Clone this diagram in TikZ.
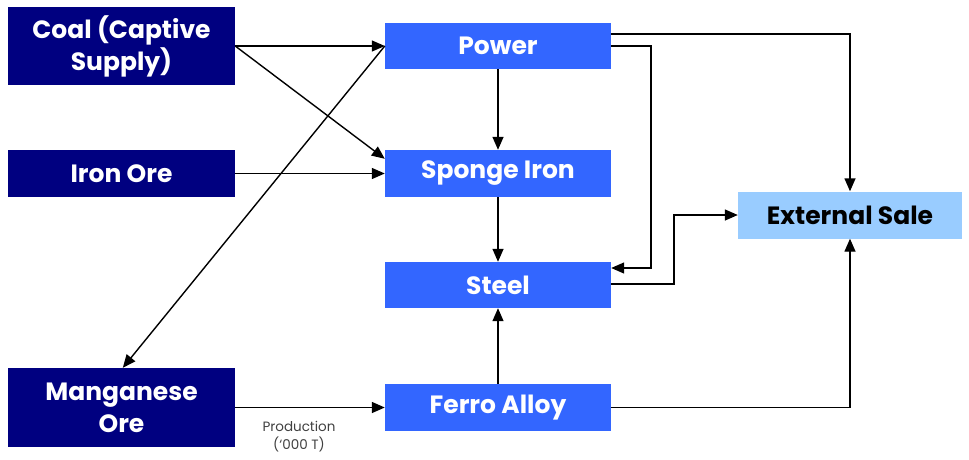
\documentclass[tikz,border=0pt]{standalone}
\usepackage{fontspec}
\setmainfont{Poppins}
\usetikzlibrary{arrows.meta}
\definecolor{navy}{HTML}{000080}
\definecolor{midblue}{HTML}{3366FF}
\definecolor{paleblue}{HTML}{99CCFF}
\tikzset{
  srcbox/.style={rectangle, fill=navy, text=white, font=\fontsize{25}{32}\selectfont\bfseries, minimum width=227pt, align=center, inner sep=0pt},
  procbox/.style={rectangle, fill=midblue, text=white, font=\fontsize{25}{32}\selectfont\bfseries, minimum width=226pt, minimum height=46pt, inner sep=0pt},
  salebox/.style={rectangle, fill=paleblue, text=black, font=\fontsize{25}{32}\selectfont\bfseries, minimum width=224pt, minimum height=47pt, inner sep=0pt},
  flow/.style={draw=black, line width=1.4pt, -{Triangle[length=13pt,width=11pt]}},
  lbl/.style={font=\fontsize{13.5}{18}\selectfont, text=black!75, align=center, inner sep=0pt}
}
\begin{document}
\begin{tikzpicture}[x=1pt,y=-1pt]
\useasboundingbox (0,0) rectangle (969,460);
\node[srcbox, minimum height=78pt] (coal) at (121.5,46) {Coal (Captive\\Supply)};
\node[srcbox, minimum height=47pt] (iron) at (121.5,173.5) {Iron Ore};
\node[srcbox, minimum height=79pt] (mang) at (121.5,407.5) {Manganese\\Ore};
\node[procbox] (power) at (498,46) {Power};
\node[procbox, minimum height=47pt] (sponge) at (498,173.5) {Sponge Iron};
\node[procbox] (steel) at (498,285) {Steel};
\node[procbox, minimum height=47pt] (ferro) at (498,407.5) {Ferro Alloy};
\node[salebox] (ext) at (850,215) {External Sale};
\node[lbl] (prodlbl) at (299,437) {Production\\(`000 T)};

\coordinate (spin) at ([yshift=-9pt]sponge.north west);
\coordinate (mgin) at ([xshift=115pt]mang.north west);
\coordinate (pwA) at ([yshift=12pt]power.east);
\coordinate (stIn) at ([yshift=17pt]steel.east);
\coordinate (stOut) at ([yshift=1pt]steel.east);
\coordinate (pwBend) at (651,46);
\coordinate (stBend) at (674,284);

\draw[flow] (coal.east) -- (power.west);
\draw[flow] (coal.east) -- (spin);
\draw[flow] (power.west) -- (mgin);
\draw[flow] (iron.east) -- (sponge.west);
\draw[flow] (mang.east) -- (ferro.west);
\draw[flow] (power.south) -- (sponge.north);
\draw[flow] (sponge.south) -- (steel.north);
\draw[flow] (ferro.north) -- (steel.south);
\draw[flow] (pwA) -| (ext.north);
\draw[flow] (power.east) -- (pwBend) |- (stIn);
\draw[flow] (stOut) -- (stBend) |- (ext.west);
\draw[flow] (ferro.east) -| (ext.south);
\end{tikzpicture}
\end{document}
